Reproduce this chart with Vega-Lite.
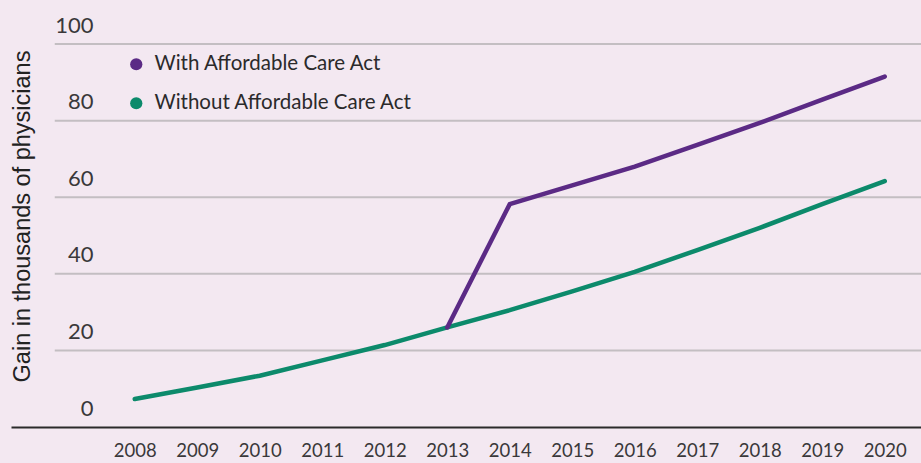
{
  "$schema": "https://vega.github.io/schema/vega-lite/v6.json",
  "autosize": "none",
  "width": 910,
  "height": 427,
  "padding": {"left": 11, "top": 0, "right": 0, "bottom": 36},
  "background": "#f3e8f1",
  "config": {"view": {"stroke": null}},
  "datasets": {
    "series": [
      {"year": 2008, "series": "Without Affordable Care Act", "value": 7.3},
      {"year": 2009, "series": "Without Affordable Care Act", "value": 10.3},
      {"year": 2010, "series": "Without Affordable Care Act", "value": 13.4},
      {"year": 2011, "series": "Without Affordable Care Act", "value": 17.4},
      {"year": 2012, "series": "Without Affordable Care Act", "value": 21.4},
      {"year": 2013, "series": "Without Affordable Care Act", "value": 26},
      {"year": 2014, "series": "Without Affordable Care Act", "value": 30.5},
      {"year": 2015, "series": "Without Affordable Care Act", "value": 35.4},
      {"year": 2016, "series": "Without Affordable Care Act", "value": 40.5},
      {"year": 2017, "series": "Without Affordable Care Act", "value": 46.2},
      {"year": 2018, "series": "Without Affordable Care Act", "value": 52},
      {"year": 2019, "series": "Without Affordable Care Act", "value": 58.2},
      {"year": 2020, "series": "Without Affordable Care Act", "value": 64.2},
      {"year": 2013, "series": "With Affordable Care Act", "value": 26},
      {"year": 2014, "series": "With Affordable Care Act", "value": 58.2},
      {"year": 2015, "series": "With Affordable Care Act", "value": 63.1},
      {"year": 2016, "series": "With Affordable Care Act", "value": 68},
      {"year": 2017, "series": "With Affordable Care Act", "value": 73.7},
      {"year": 2018, "series": "With Affordable Care Act", "value": 79.4},
      {"year": 2019, "series": "With Affordable Care Act", "value": 85.5},
      {"year": 2020, "series": "With Affordable Care Act", "value": 91.5}
    ],
    "grid": [
      {"x1": 2006.72, "x2": 2020.58, "v": 20},
      {"x1": 2006.72, "x2": 2020.58, "v": 40},
      {"x1": 2006.72, "x2": 2020.58, "v": 60},
      {"x1": 2006.72, "x2": 2020.58, "v": 80},
      {"x1": 2006.72, "x2": 2020.58, "v": 100}
    ]
  },
  "layer": [
    {
      "data": {"name": "grid"},
      "mark": {"type": "rule", "color": "#c3bec2", "strokeWidth": 2},
      "encoding": {
        "x": {"field": "x1", "type": "quantitative", "scale": {"domain": [2006.02, 2020.58], "nice": false, "zero": false}},
        "x2": {"field": "x2"},
        "y": {"field": "v", "type": "quantitative", "scale": {"domain": [0, 111.5], "nice": false}}
      }
    },
    {
      "data": {"name": "series"},
      "mark": {"type": "line", "strokeWidth": 4.5, "strokeCap": "round"},
      "encoding": {
        "x": {
          "field": "year", "type": "quantitative",
          "axis": {
            "values": [2008, 2009, 2010, 2011, 2012, 2013, 2014, 2015, 2016, 2017, 2018, 2019, 2020],
            "format": "d", "title": null, "grid": false, "ticks": false,
            "domainColor": "#2b2a2b", "domainWidth": 2,
            "labelFont": "Lato", "labelFontSize": 18.5, "labelColor": "#3a383a",
            "labelPadding": 14, "labelFlush": false
          }
        },
        "y": {
          "field": "value", "type": "quantitative",
          "axis": {
            "values": [0, 20, 40, 60, 80, 100],
            "title": "Gain in thousands of physicians",
            "titleFont": "Liberation Sans", "titleFontSize": 23.5, "titleFontWeight": "normal", "titleColor": "#222222",
            "titleX": 11, "titleY": 216, "titleAngle": -90, "titleBaseline": "middle", "titleAlign": "center",
            "grid": false, "ticks": false, "domain": false,
            "labelAlign": "right", "labelBaseline": "bottom", "labelPadding": -82, "labelOffset": -7,
            "labelFont": "Lato", "labelFontSize": 22, "labelColor": "#3a383a"
          }
        },
        "color": {
          "field": "series", "type": "nominal",
          "scale": {"domain": ["With Affordable Care Act", "Without Affordable Care Act"], "range": ["#5b2a85", "#0c8a6b"]},
          "legend": {
            "orient": "none", "legendX": 115, "legendY": 54, "title": null,
            "symbolType": "circle", "symbolSize": 150,
            "labelFont": "Lato", "labelFontSize": 20.5, "labelColor": "#2b2a2b", "labelLimit": 0,
            "rowPadding": 18, "labelOffset": 8,
            "encode": {
              "symbols": {
                "update": {
                  "fill": {"scale": "color", "field": "value"},
                  "strokeWidth": {"value": 0},
                  "size": {"value": 150}
                }
              }
            }
          }
        }
      }
    }
  ]
}
